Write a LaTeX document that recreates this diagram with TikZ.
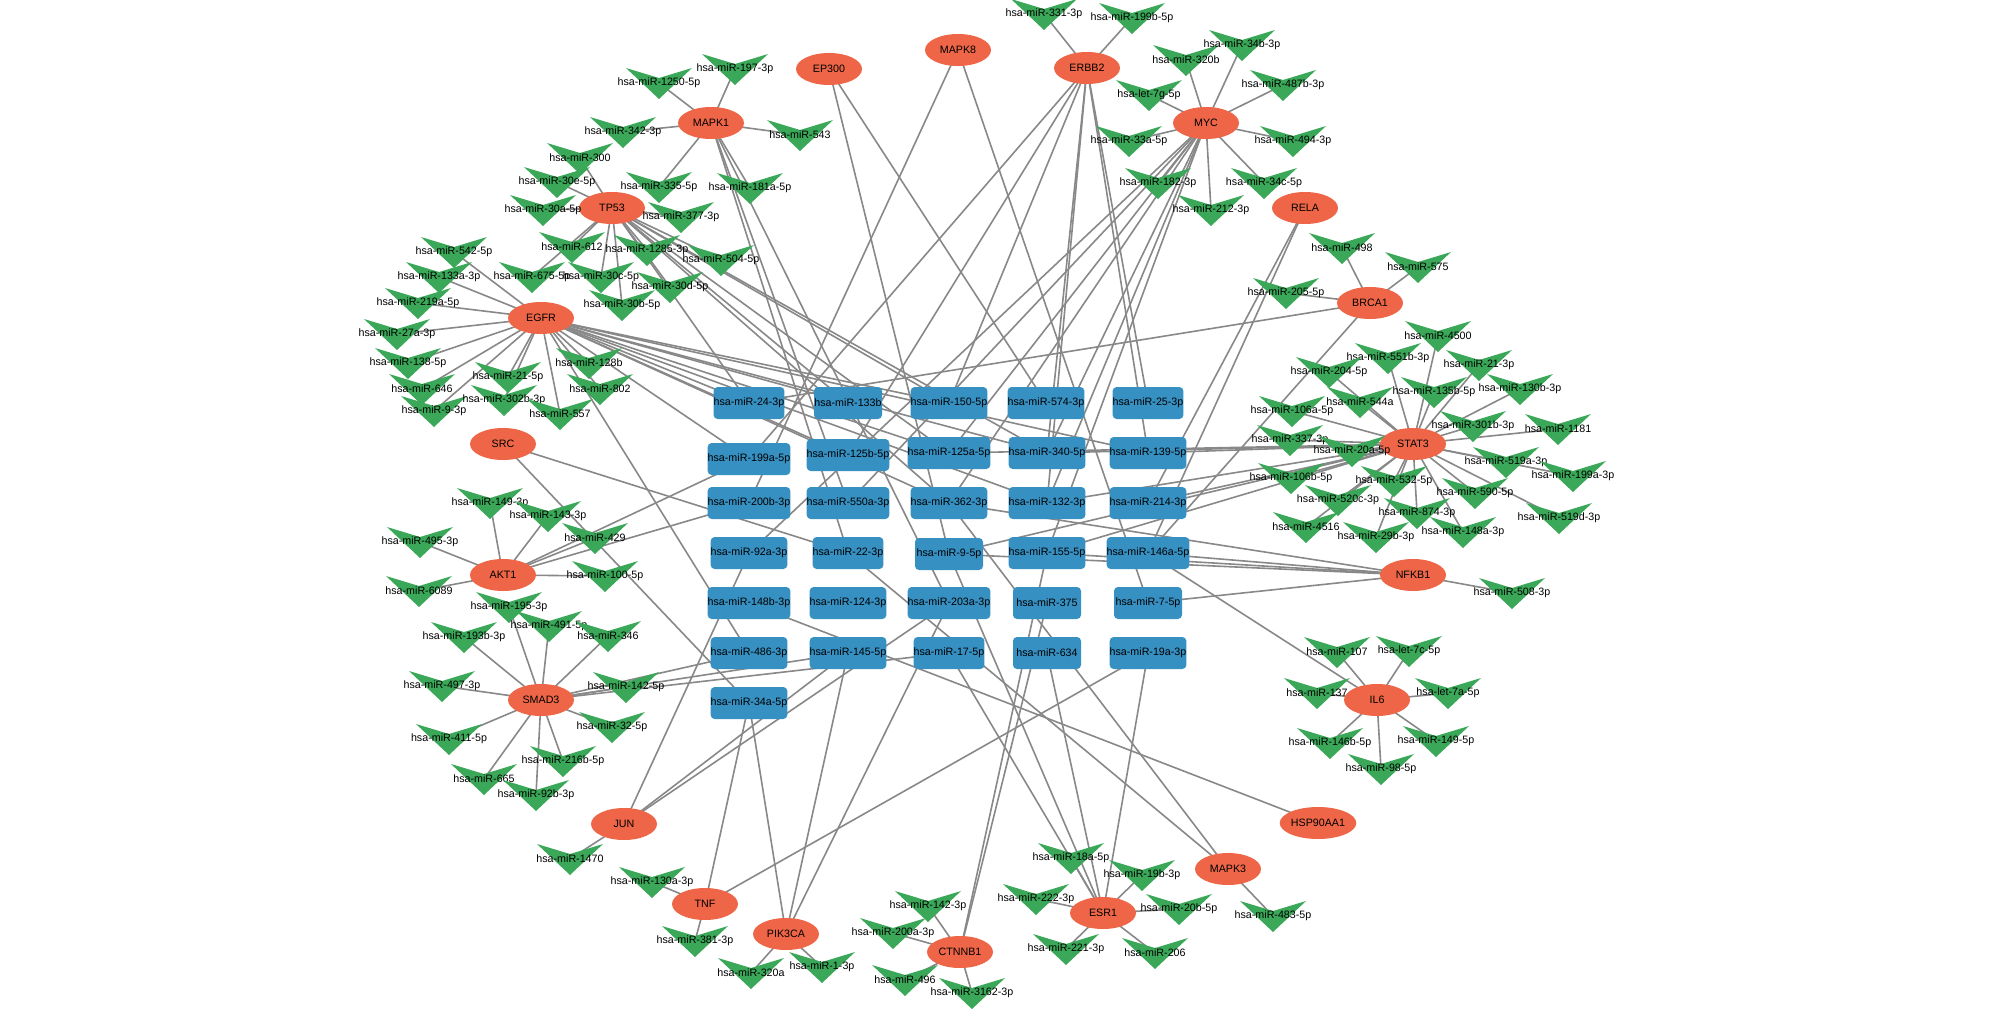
\documentclass[tikz,border=0pt]{standalone}
\usepackage{fontspec}
\setmainfont{Liberation Sans}
\usetikzlibrary{shapes.geometric}
\definecolor{genefill}{RGB}{238,102,71}
\definecolor{hubfill}{RGB}{54,144,194}
\definecolor{mirfill}{RGB}{58,168,88}
\definecolor{edgegray}{RGB}{136,136,136}
\pgfdeclarelayer{edgelayer}
\pgfsetlayers{edgelayer,main}
\newcommand{\lab}{\fontsize{10.7pt}{12pt}\selectfont}
\tikzset{
  gene/.style={ellipse, fill=genefill, minimum width=66pt, minimum height=32pt, inner sep=0pt, font=\lab},
  hub/.style={rectangle, rounded corners=4pt, fill=hubfill, minimum width=68pt, minimum height=32pt, inner sep=0pt, font=\lab},
  mirlab/.style={inner sep=0pt, font=\lab},
  link/.style={draw=edgegray, line width=1.6pt}
}
\newcommand{\mirV}[4]{%
  \fill[mirfill] (#2-33,#3-15) -- (#2,#3-5) -- (#2+33,#3-15) -- (#2,#3+16) -- cycle;
  \node[mirlab] (#1) at (#2,#3) {#4};}
\newcommand{\gl}[2]{\foreach \t in {#2} {\draw[link] (#1.center) -- (\t.center);}}
\begin{document}
\begin{tikzpicture}[x=1pt,y=-1pt]
\useasboundingbox (0,0) rectangle (2000,1009);
% genes
\node[gene] (EP300) at (829,69) {EP300};
\node[gene] (MAPK8) at (958,50) {MAPK8};
\node[gene] (ERBB2) at (1087,68) {ERBB2};
\node[gene] (MYC) at (1206,123) {MYC};
\node[gene] (MAPK1) at (711,123) {MAPK1};
\node[gene] (TP53) at (612,208) {TP53};
\node[gene] (RELA) at (1305,208) {RELA};
\node[gene] (BRCA1) at (1370,303) {BRCA1};
\node[gene] (EGFR) at (541,318) {EGFR};
\node[gene] (SRC) at (503,444) {SRC};
\node[gene] (STAT3) at (1413,444) {STAT3};
\node[gene] (AKT1) at (503,575) {AKT1};
\node[gene] (NFKB1) at (1413,575) {NFKB1};
\node[gene] (SMAD3) at (541,700) {SMAD3};
\node[gene] (IL6) at (1377,700) {IL6};
\node[gene] (JUN) at (624,824) {JUN};
\node[gene] (HSP90AA1) at (1318,823) {HSP90AA1};
\node[gene] (MAPK3) at (1228,869) {MAPK3};
\node[gene] (TNF) at (705,904) {TNF};
\node[gene] (ESR1) at (1103,913) {ESR1};
\node[gene] (PIK3CA) at (786,934) {PIK3CA};
\node[gene] (CTNNB1) at (960,952) {CTNNB1};
% hub miRNAs
\node[hub] (h24) at (749,403) {hsa-miR-24-3p};
\node[hub] (h199a) at (749,459) {hsa-miR-199a-5p};
\node[hub] (h200b) at (749,503) {hsa-miR-200b-3p};
\node[hub] (h92a) at (749,553) {hsa-miR-92a-3p};
\node[hub] (h148b) at (749,603) {hsa-miR-148b-3p};
\node[hub] (h486) at (749,653) {hsa-miR-486-3p};
\node[hub] (h34a) at (749,703) {hsa-miR-34a-5p};
\node[hub] (h133b) at (848,403) {hsa-miR-133b};
\node[hub] (h125b) at (848,455) {hsa-miR-125b-5p};
\node[hub] (h550a) at (848,503) {hsa-miR-550a-3p};
\node[hub] (h22) at (848,553) {hsa-miR-22-3p};
\node[hub] (h124) at (848,603) {hsa-miR-124-3p};
\node[hub] (h145) at (848,653) {hsa-miR-145-5p};
\node[hub] (h150) at (949,403) {hsa-miR-150-5p};
\node[hub] (h125a) at (949,453) {hsa-miR-125a-5p};
\node[hub] (h362) at (949,503) {hsa-miR-362-3p};
\node[hub] (h9) at (949,554) {hsa-miR-9-5p};
\node[hub] (h203a) at (949,603) {hsa-miR-203a-3p};
\node[hub] (h17) at (949,653) {hsa-miR-17-5p};
\node[hub] (h574) at (1046,403) {hsa-miR-574-3p};
\node[hub] (h340) at (1047,453) {hsa-miR-340-5p};
\node[hub] (h132) at (1047,503) {hsa-miR-132-3p};
\node[hub] (h155) at (1047,553) {hsa-miR-155-5p};
\node[hub] (h375) at (1047,603) {hsa-miR-375};
\node[hub] (h634) at (1047,653) {hsa-miR-634};
\node[hub] (h25) at (1148,403) {hsa-miR-25-3p};
\node[hub] (h139) at (1148,453) {hsa-miR-139-5p};
\node[hub] (h214) at (1148,503) {hsa-miR-214-3p};
\node[hub] (h146a) at (1148,553) {hsa-miR-146a-5p};
\node[hub] (h7) at (1148,603) {hsa-miR-7-5p};
\node[hub] (h19a) at (1148,653) {hsa-miR-19a-3p};
% V miRNAs
\mirV{v1250}{659}{83}{hsa-miR-1250-5p}
\mirV{v197}{735}{69}{hsa-miR-197-3p}
\mirV{v342}{623}{132}{hsa-miR-342-3p}
\mirV{v543}{800}{135}{hsa-miR-543}
\mirV{v335}{659}{187}{hsa-miR-335-5p}
\mirV{v181a}{750}{188}{hsa-miR-181a-5p}
\mirV{v300}{580}{158}{hsa-miR-300}
\mirV{v30e}{557}{182}{hsa-miR-30e-5p}
\mirV{v30a}{543}{210}{hsa-miR-30a-5p}
\mirV{v377}{681}{217}{hsa-miR-377-3p}
\mirV{v612}{572}{247}{hsa-miR-612}
\mirV{v1285}{647}{250}{hsa-miR-1285-3p}
\mirV{v504}{721}{260}{hsa-miR-504-5p}
\mirV{v675}{532}{277}{hsa-miR-675-5p}
\mirV{v30c}{601}{277}{hsa-miR-30c-5p}
\mirV{v30d}{670}{287}{hsa-miR-30d-5p}
\mirV{v30b}{622}{305}{hsa-miR-30b-5p}
\mirV{v542}{454}{252}{hsa-miR-542-5p}
\mirV{v133a}{439}{277}{hsa-miR-133a-3p}
\mirV{v219a}{418}{303}{hsa-miR-219a-5p}
\mirV{v27a}{397}{334}{hsa-miR-27a-3p}
\mirV{v138}{408}{363}{hsa-miR-138-5p}
\mirV{v646}{422}{389}{hsa-miR-646}
\mirV{v93}{434}{411}{hsa-miR-9-3p}
\mirV{v215}{508}{377}{hsa-miR-21-5p}
\mirV{v302b}{504}{400}{hsa-miR-302b-3p}
\mirV{v557}{560}{414}{hsa-miR-557}
\mirV{v128b}{589}{363}{hsa-miR-128b}
\mirV{v802}{600}{389}{hsa-miR-802}
\mirV{v1493}{490}{503}{hsa-miR-149-3p}
\mirV{v143}{548}{516}{hsa-miR-143-3p}
\mirV{v495}{420}{542}{hsa-miR-495-3p}
\mirV{v429}{595}{538}{hsa-miR-429}
\mirV{v100}{605}{576}{hsa-miR-100-5p}
\mirV{v6089}{419}{591}{hsa-miR-6089}
\mirV{v195}{509}{607}{hsa-miR-195-3p}
\mirV{v491}{549}{626}{hsa-miR-491-5p}
\mirV{v193b}{464}{637}{hsa-miR-193b-3p}
\mirV{v346}{608}{636}{hsa-miR-346}
\mirV{v497}{442}{686}{hsa-miR-497-3p}
\mirV{v1425}{626}{687}{hsa-miR-142-5p}
\mirV{v411}{449}{739}{hsa-miR-411-5p}
\mirV{v32}{612}{727}{hsa-miR-32-5p}
\mirV{v216b}{563}{761}{hsa-miR-216b-5p}
\mirV{v665}{484}{779}{hsa-miR-665}
\mirV{v92b}{536}{795}{hsa-miR-92b-3p}
\mirV{v1470}{570}{859}{hsa-miR-1470}
\mirV{v130a}{652}{882}{hsa-miR-130a-3p}
\mirV{v381}{695}{941}{hsa-miR-381-3p}
\mirV{v320a}{751}{973}{hsa-miR-320a}
\mirV{v13}{822}{967}{hsa-miR-1-3p}
\mirV{v1423}{928}{906}{hsa-miR-142-3p}
\mirV{v200a}{893}{933}{hsa-miR-200a-3p}
\mirV{v496}{905}{980}{hsa-miR-496}
\mirV{v3162}{972}{993}{hsa-miR-3162-3p}
\mirV{v18a}{1071}{858}{hsa-miR-18a-5p}
\mirV{v222}{1036}{899}{hsa-miR-222-3p}
\mirV{v19b}{1142}{875}{hsa-miR-19b-3p}
\mirV{v20b}{1179}{909}{hsa-miR-20b-5p}
\mirV{v221}{1066}{949}{hsa-miR-221-3p}
\mirV{v206}{1155}{953}{hsa-miR-206}
\mirV{v483}{1273}{916}{hsa-miR-483-5p}
\mirV{v107}{1337}{652}{hsa-miR-107}
\mirV{vlet7c}{1409}{651}{hsa-let-7c-5p}
\mirV{v137}{1317}{693}{hsa-miR-137}
\mirV{vlet7a}{1448}{693}{hsa-let-7a-5p}
\mirV{v146b}{1330}{743}{hsa-miR-146b-5p}
\mirV{v1495}{1436}{741}{hsa-miR-149-5p}
\mirV{v98}{1381}{769}{hsa-miR-98-5p}
\mirV{v508}{1512}{593}{hsa-miR-508-3p}
\mirV{v4500}{1438}{336}{hsa-miR-4500}
\mirV{v551b}{1388}{358}{hsa-miR-551b-3p}
\mirV{v213}{1479}{365}{hsa-miR-21-3p}
\mirV{v204}{1329}{372}{hsa-miR-204-5p}
\mirV{v135b}{1434}{392}{hsa-miR-135b-5p}
\mirV{v130b}{1520}{389}{hsa-miR-130b-3p}
\mirV{v544a}{1360}{402}{hsa-miR-544a}
\mirV{v106a}{1292}{411}{hsa-miR-106a-5p}
\mirV{v301b}{1473}{426}{hsa-miR-301b-3p}
\mirV{v1181}{1558}{429}{hsa-miR-1181}
\mirV{v337}{1290}{440}{hsa-miR-337-3p}
\mirV{v20a}{1352}{451}{hsa-miR-20a-5p}
\mirV{v106b}{1291}{478}{hsa-miR-106b-5p}
\mirV{v519a}{1506}{462}{hsa-miR-519a-3p}
\mirV{v199a3}{1573}{476}{hsa-miR-199a-3p}
\mirV{v532}{1394}{481}{hsa-miR-532-5p}
\mirV{v520c}{1338}{500}{hsa-miR-520c-3p}
\mirV{v590}{1475}{493}{hsa-miR-590-5p}
\mirV{v4516}{1306}{527}{hsa-miR-4516}
\mirV{v874}{1417}{513}{hsa-miR-874-3p}
\mirV{v519d}{1559}{518}{hsa-miR-519d-3p}
\mirV{v29b}{1376}{537}{hsa-miR-29b-3p}
\mirV{v148a}{1463}{532}{hsa-miR-148a-3p}
\mirV{v498}{1342}{248}{hsa-miR-498}
\mirV{v575}{1418}{267}{hsa-miR-575}
\mirV{v205}{1286}{293}{hsa-miR-205-5p}
\mirV{v320b}{1186}{60}{hsa-miR-320b}
\mirV{v34b}{1242}{45}{hsa-miR-34b-3p}
\mirV{v487b}{1283}{85}{hsa-miR-487b-3p}
\mirV{vlet7g}{1149}{95}{hsa-let-7g-5p}
\mirV{v33a}{1129}{141}{hsa-miR-33a-5p}
\mirV{v494}{1293}{141}{hsa-miR-494-3p}
\mirV{v182}{1158}{183}{hsa-miR-182-3p}
\mirV{v34c}{1264}{183}{hsa-miR-34c-5p}
\mirV{v212}{1211}{210}{hsa-miR-212-3p}
\mirV{v331}{1044}{14}{hsa-miR-331-3p}
\mirV{v199b}{1132}{18}{hsa-miR-199b-5p}
% edges
\begin{pgfonlayer}{edgelayer}
\gl{MAPK1}{v1250,v197,v342,v543,v335,v181a,h550a,h22,h203a}
\gl{TP53}{v300,v30e,v30a,v377,v612,v1285,v504,v675,v30c,v30d,v30b,h24,h133b,h150,h125a,h340,h362}
\gl{EGFR}{v542,v133a,v219a,v27a,v138,v646,v93,v215,v302b,v557,v128b,v802,h24,h133b,h150,h199a,h125b,h125a,h362,h340,h139,h486,h132}
\gl{AKT1}{v1493,v143,v495,v429,v100,v6089,h199a,h200b}
\gl{SRC}{h22,h34a}
\gl{SMAD3}{v195,v491,v193b,v346,v497,v1425,v411,v32,v216b,v665,v92b,h486,h145,h17}
\gl{JUN}{v1470,h92a,h145,h203a}
\gl{TNF}{v130a,v381,h34a,h19a}
\gl{PIK3CA}{v320a,v13,h34a,h145,h203a}
\gl{CTNNB1}{v1423,v200a,v496,v3162,h155,h375}
\gl{ESR1}{v18a,v222,v19b,v20b,v221,v206,h9,h634,h19a,h17}
\gl{MAPK3}{v483,h362,h22}
\gl{HSP90AA1}{h148b}
\gl{IL6}{v107,vlet7c,v137,vlet7a,v146b,v1495,v98,h146a}
\gl{NFKB1}{v508,h146a,h155,h9,h7,h362}
\gl{STAT3}{v4500,v551b,v213,v204,v135b,v130b,v544a,v106a,v301b,v1181,v337,v20a,v106b,v519a,v199a3,v532,v520c,v590,v4516,v874,v519d,v29b,v148a,h139,h340,h214,h132,h125a,h155,h9}
\gl{BRCA1}{v498,v575,v205,h24,h146a}
\gl{RELA}{h146a,h214}
\gl{MYC}{v320b,v34b,v487b,vlet7g,v33a,v494,v182,v34c,v212,h92a,h550a,h125a,h362,h155,h340,h132}
\gl{ERBB2}{v331,v199b,h199a,h125b,h150,h340,h132,h139,h25}
\gl{EP300}{h9,h574}
\gl{MAPK8}{h200b,h7}
\end{pgfonlayer}
\end{tikzpicture}
\end{document}
